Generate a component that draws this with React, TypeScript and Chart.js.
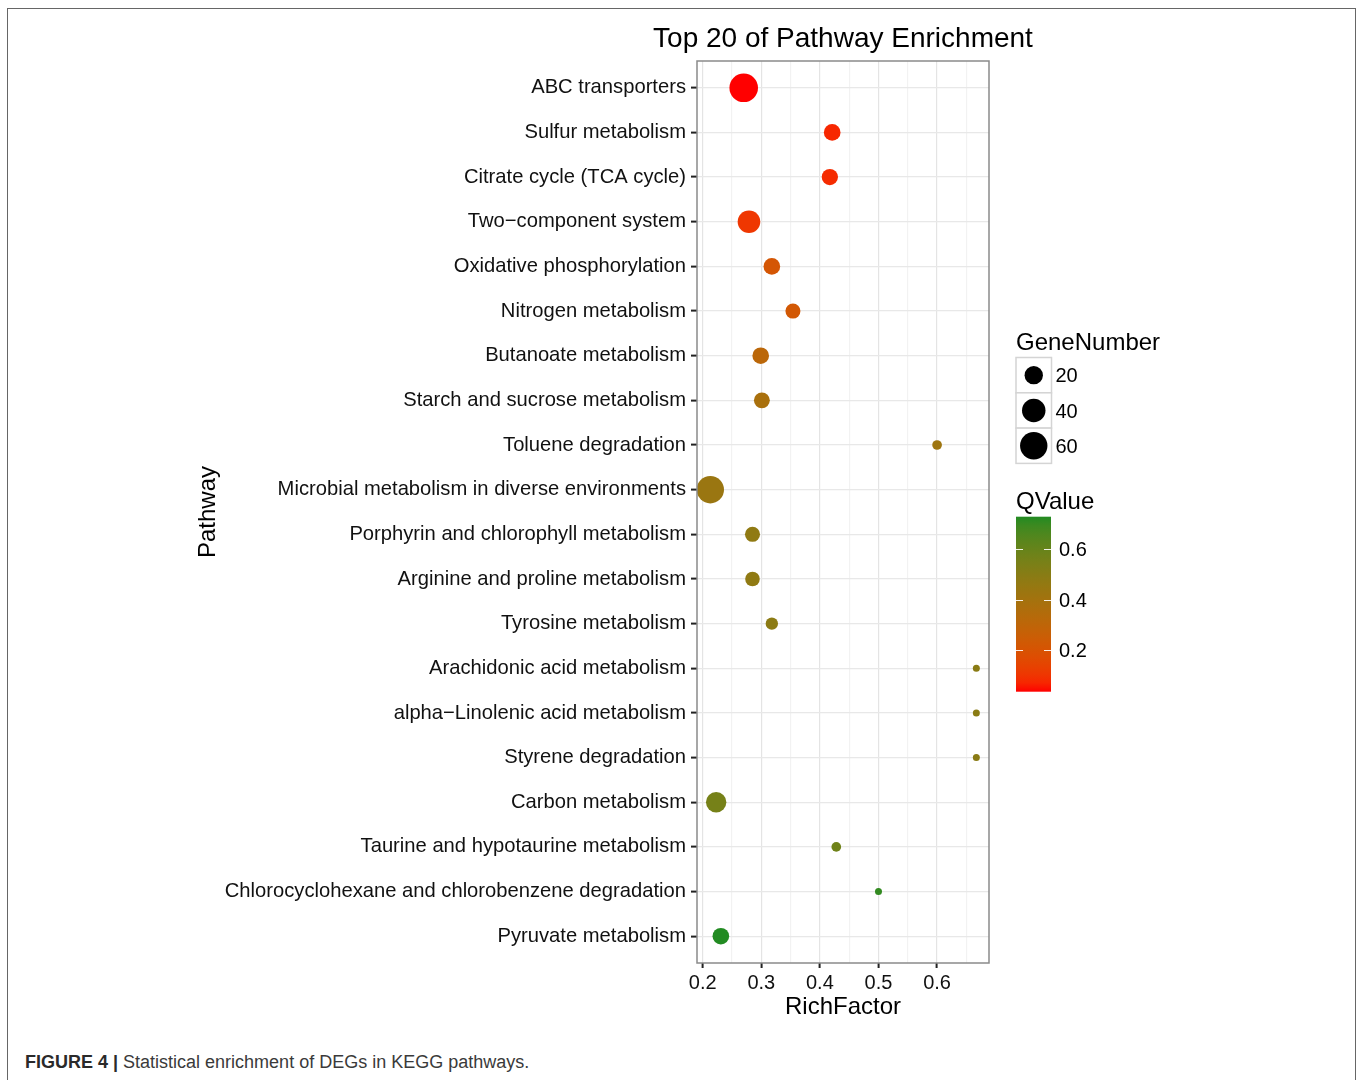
import React, { useEffect, useRef } from 'react';
import { Chart, registerables } from 'chart.js';

Chart.register(...registerables);

const pathways = [
  'ABC transporters',
  'Sulfur metabolism',
  'Citrate cycle (TCA cycle)',
  'Two\u2212component system',
  'Oxidative phosphorylation',
  'Nitrogen metabolism',
  'Butanoate metabolism',
  'Starch and sucrose metabolism',
  'Toluene degradation',
  'Microbial metabolism in diverse environments',
  'Porphyrin and chlorophyll metabolism',
  'Arginine and proline metabolism',
  'Tyrosine metabolism',
  'Arachidonic acid metabolism',
  'alpha\u2212Linolenic acid metabolism',
  'Styrene degradation',
  'Carbon metabolism',
  'Taurine and hypotaurine metabolism',
  'Chlorocyclohexane and chlorobenzene degradation',
  'Pyruvate metabolism',
];
const richFactor = [0.270, 0.421, 0.417, 0.279, 0.318, 0.354, 0.299, 0.301, 0.600, 0.213, 0.285, 0.285, 0.318, 0.667, 0.667, 0.667, 0.223, 0.428, 0.500, 0.231];
const geneNumber = [67, 15, 14, 36, 15, 11, 15, 13, 3, 60, 11, 10, 6, 2, 2, 2, 27, 3, 2, 15];
const qValue = [0.035, 0.07, 0.077, 0.104, 0.215, 0.222, 0.312, 0.382, 0.423, 0.437, 0.472, 0.472, 0.485, 0.492, 0.492, 0.492, 0.555, 0.576, 0.707, 0.728];

const xTicks = [0.2, 0.25, 0.3, 0.35, 0.4, 0.45, 0.5, 0.55, 0.6, 0.65];
const xMajor = [0.2, 0.3, 0.4, 0.5, 0.6];
const sizeBreaks = [20, 40, 60];
const qBreaks = [0.2, 0.4, 0.6];

const FONT = '"Liberation Sans", Arial, Helvetica, sans-serif';
const W = 1347;
const H = 1035;

// ---- colour scale (Lab interpolation, like ggplot gradient) ----
const LOW = [255, 0, 0];
const HIGH = [34, 139, 34];
function rgb2lab(rgb: number[]) {
  const [R, G, B] = rgb.map((c) => {
    c /= 255;
    return c <= 0.04045 ? c / 12.92 : Math.pow((c + 0.055) / 1.055, 2.4);
  });
  const X = (0.4124 * R + 0.3576 * G + 0.1805 * B) / 0.95047;
  const Y = 0.2126 * R + 0.7152 * G + 0.0722 * B;
  const Z = (0.0193 * R + 0.1192 * G + 0.9505 * B) / 1.08883;
  const f = (t: number) => (t > 0.008856 ? Math.cbrt(t) : 7.787 * t + 16 / 116);
  return [116 * f(Y) - 16, 500 * (f(X) - f(Y)), 200 * (f(Y) - f(Z))];
}
function lab2rgb([L, a, b]: number[]) {
  const fy = (L + 16) / 116;
  const fx = fy + a / 500;
  const fz = fy - b / 200;
  const finv = (t: number) => (t * t * t > 0.008856 ? t * t * t : (t - 16 / 116) / 7.787);
  const X = 0.95047 * finv(fx);
  const Y = finv(fy);
  const Z = 1.08883 * finv(fz);
  const R = 3.2406 * X - 1.5372 * Y - 0.4986 * Z;
  const G = -0.9689 * X + 1.8758 * Y + 0.0415 * Z;
  const B = 0.0557 * X - 0.204 * Y + 1.057 * Z;
  const g = (c: number) => {
    c = c <= 0.0031308 ? 12.92 * c : 1.055 * Math.pow(c, 1 / 2.4) - 0.055;
    return Math.round(Math.max(0, Math.min(1, c)) * 255);
  };
  return `rgb(${g(R)},${g(G)},${g(B)})`;
}
const LAB_LOW = rgb2lab(LOW);
const LAB_HIGH = rgb2lab(HIGH);
const qMin = Math.min(...qValue);
const qMax = Math.max(...qValue);
function qColor(q: number) {
  const t = Math.max(0, Math.min(1, (q - qMin) / (qMax - qMin)));
  return lab2rgb([0, 1, 2].map((i) => LAB_LOW[i] + (LAB_HIGH[i] - LAB_LOW[i]) * t));
}

// ---- size scale ----
const nMin = Math.min(...geneNumber);
const nMax = Math.max(...geneNumber);
const R_MIN = 3.5;
const R_MAX = 14.3;
function radius(n: number) {
  return R_MIN + (R_MAX - R_MIN) * Math.sqrt(Math.max(0, (n - nMin) / (nMax - nMin)));
}

const isMajor = (v: number) => xMajor.some((m) => Math.abs(m - v) < 1e-6);

const decorPlugin = {
  id: 'decor',
  afterDatasetsDraw(chart: any) {
    const ctx = chart.ctx as CanvasRenderingContext2D;
    const ca = chart.chartArea;
    ctx.save();
    ctx.strokeStyle = '#8a8a8a';
    ctx.lineWidth = 1.5;
    ctx.strokeRect(ca.left, ca.top, ca.right - ca.left, ca.bottom - ca.top);
    ctx.restore();
  },
  afterDraw(chart: any) {
    const ctx = chart.ctx as CanvasRenderingContext2D;
    const ca = chart.chartArea;
    const cx = (ca.left + ca.right) / 2;
    ctx.save();
    ctx.fillStyle = '#000';
    ctx.textBaseline = 'alphabetic';

    // title
    ctx.font = `28px ${FONT}`;
    ctx.textAlign = 'center';
    ctx.fillText('Top 20 of Pathway Enrichment', cx, 38);

    // x title
    ctx.font = `24px ${FONT}`;
    ctx.fillText('RichFactor', cx, 1005);

    // y title
    ctx.save();
    ctx.translate(207, (ca.top + ca.bottom) / 2);
    ctx.rotate(-Math.PI / 2);
    ctx.textAlign = 'center';
    ctx.fillText('Pathway', 0, 0);
    ctx.restore();

    // ---- GeneNumber legend ----
    const LX = 1008;
    ctx.textAlign = 'left';
    ctx.font = `24px ${FONT}`;
    ctx.fillText('GeneNumber', LX, 341);
    const keyTop = 348.5;
    const keyH = 35.3;
    const keyW = 35.5;
    sizeBreaks.forEach((n, i) => {
      const y0 = keyTop + i * keyH;
      ctx.fillStyle = '#ffffff';
      ctx.fillRect(LX, y0, keyW, keyH);
      ctx.strokeStyle = '#d4d4d4';
      ctx.lineWidth = 1.5;
      ctx.strokeRect(LX, y0, keyW, keyH);
      ctx.fillStyle = '#000';
      ctx.beginPath();
      ctx.arc(LX + keyW / 2, y0 + keyH / 2, radius(n), 0, Math.PI * 2);
      ctx.fill();
      ctx.font = `20px ${FONT}`;
      ctx.fillText(String(n), LX + keyW + 4, y0 + keyH / 2 + 7.2);
    });

    // ---- QValue colour bar ----
    ctx.font = `24px ${FONT}`;
    ctx.fillStyle = '#000';
    ctx.fillText('QValue', LX, 500);
    const barTop = 507.7;
    const barBot = 682.7;
    const barW = 35;
    const grad = ctx.createLinearGradient(0, barBot, 0, barTop);
    for (let i = 0; i <= 20; i++) {
      const q = qMin + (i / 20) * (qMax - qMin);
      grad.addColorStop(i / 20, qColor(q));
    }
    ctx.fillStyle = grad;
    ctx.fillRect(LX, barTop, barW, barBot - barTop);
    const qy = (q: number) => barBot - ((q - qMin) / (qMax - qMin)) * (barBot - barTop);
    ctx.strokeStyle = 'rgba(255,255,255,0.9)';
    ctx.lineWidth = 1;
    ctx.font = `20px ${FONT}`;
    qBreaks.forEach((q) => {
      const y = Math.round(qy(q)) + 0.5;
      ctx.beginPath();
      ctx.moveTo(LX, y);
      ctx.lineTo(LX + 7, y);
      ctx.moveTo(LX + barW - 7, y);
      ctx.lineTo(LX + barW, y);
      ctx.stroke();
      ctx.fillStyle = '#000';
      ctx.fillText(q.toFixed(1), LX + barW + 8, qy(q) + 7.2);
    });

    ctx.restore();
  },
};

export default function App() {
  const ref = useRef<HTMLCanvasElement | null>(null);

  useEffect(() => {
    if (!ref.current) return;
    const data = pathways.map((_, i) => ({ x: richFactor[i], y: i, r: radius(geneNumber[i]) }));
    const chart = new Chart(ref.current, {
      type: 'bubble',
      data: {
        datasets: [
          {
            data,
            backgroundColor: qValue.map((q) => qColor(q)),
            borderWidth: 0,
            hoverBorderWidth: 0,
          } as any,
        ],
      },
      plugins: [decorPlugin],
      options: {
        animation: false,
        responsive: false,
        devicePixelRatio: 1,
        events: [],
        layout: { padding: { left: 0, right: W - 981, top: 52, bottom: 41 } },
        plugins: { legend: { display: false }, tooltip: { enabled: false }, title: { display: false } },
        scales: {
          x: {
            type: 'linear',
            min: 0.1903,
            max: 0.6886,
            afterBuildTicks: (scale: any) => {
              scale.ticks = xTicks.map((v) => ({ value: v }));
            },
            afterFit: (scale: any) => {
              scale.height = 40;
            },
            border: { display: false },
            grid: {
              color: (c: any) => (c.tick && isMajor(c.tick.value) ? '#e4e4e4' : '#f2f2f2'),
              lineWidth: 1.2,
              drawTicks: true,
              tickLength: 5,
              tickColor: (c: any) => (c.tick && isMajor(c.tick.value) ? '#222' : 'rgba(0,0,0,0)'),
              tickWidth: 2,
            },
            ticks: {
              autoSkip: false,
              maxRotation: 0,
              padding: 3,
              color: '#111',
              font: { family: FONT, size: 20 },
              callback: (v: any) => (isMajor(Number(v)) ? Number(v).toFixed(1) : ''),
            },
          },
          y: {
            type: 'linear',
            reverse: true,
            min: -0.6,
            max: 19.6,
            afterBuildTicks: (scale: any) => {
              scale.ticks = pathways.map((_, i) => ({ value: i }));
            },
            afterFit: (scale: any) => {
              scale.width = 689;
            },
            border: { display: false },
            grid: {
              color: '#e8e8e8',
              lineWidth: 1.2,
              drawTicks: true,
              tickLength: 6,
              tickColor: '#222',
              tickWidth: 2,
            },
            ticks: {
              autoSkip: false,
              padding: 5,
              color: '#111',
              font: { family: FONT, size: 20.2 },
              callback: (v: any) => pathways[Number(v)] ?? '',
            },
          },
        },
      } as any,
    });
    return () => chart.destroy();
  }, []);

  return (
    <div
      style={{
        position: 'absolute',
        left: 7,
        top: 8,
        width: 1349,
        height: 1072,
        border: '1px solid #666',
        borderBottom: 'none',
        boxSizing: 'border-box',
        background: '#fff',
        overflow: 'hidden',
      }}
    >
      <canvas ref={ref} width={W} height={H} style={{ position: 'absolute', left: 0, top: 0, width: W, height: H }} />
      <div
        style={{
          position: 'absolute',
          left: 17,
          top: 1043,
          fontFamily: FONT,
          fontSize: 18,
          lineHeight: '21px',
          color: '#3a3a3a',
          whiteSpace: 'nowrap',
        }}
      >
        <span style={{ fontWeight: 'bold', color: '#2a2a2a' }}>FIGURE 4 |</span> Statistical enrichment of DEGs in KEGG pathways.
      </div>
    </div>
  );
}
